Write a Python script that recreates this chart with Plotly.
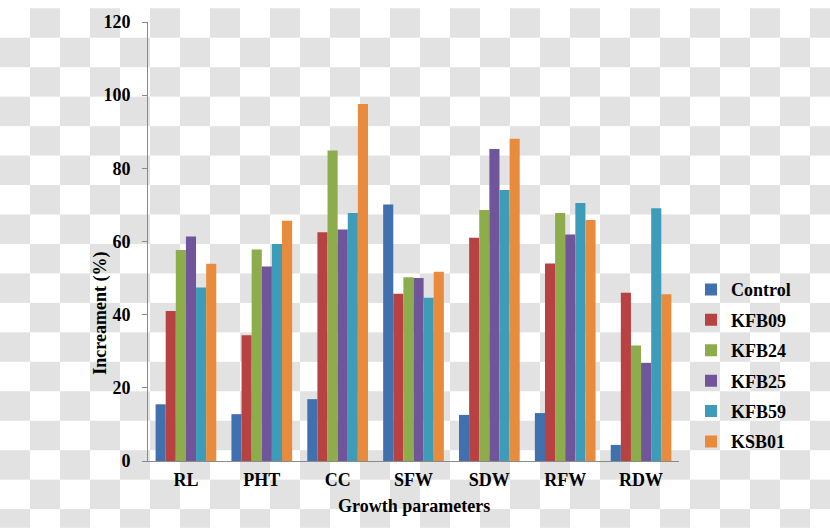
import plotly.graph_objects as go

categories = ["RL", "PHT", "CC", "SFW", "SDW", "RFW", "RDW"]
series_names = ["Control", "KFB09", "KFB24", "KFB25", "KFB59", "KSB01"]
control = [15.5, 12.8, 16.9, 70.1, 12.6, 13.1, 4.4]
kfb09 = [41.0, 34.4, 62.5, 45.7, 61.0, 54.0, 46.0]
kfb24 = [57.7, 57.8, 84.9, 50.2, 68.6, 67.8, 31.6]
kfb25 = [61.4, 53.2, 63.3, 50.0, 85.3, 61.9, 26.8]
kfb59 = [47.4, 59.3, 67.8, 44.6, 74.1, 70.5, 69.1]
ksb01 = [53.9, 65.7, 97.6, 51.7, 88.1, 65.9, 45.6]
series_values = [control, kfb09, kfb24, kfb25, kfb59, ksb01]
colors = ["#4170AE", "#B84242", "#8DAC4C", "#70559A", "#3D9DB8", "#E98B3C"]
y_ticks = [0, 20, 40, 60, 80, 100, 120]

W, H = 830, 529
ML, MR, MT, MB = 148, 151, 14, 68
PW, PH = W - ML - MR, H - MT - MB

FONT = "Liberation Serif"
FS = 18

fig = go.Figure()
for name, vals, col in zip(series_names, series_values, colors):
    fig.add_trace(go.Bar(x=categories, y=vals, name=name, marker_color=col,
                         marker_line_width=0, legendgroup=name))

# checkerboard background (transparent-image pattern)
shapes = []
cell = 30
for c in range(W // cell + 1):
    for r in range(H // cell + 1):
        if (c + r) % 2 == 1:
            x0, x1 = c * cell, min((c + 1) * cell, W)
            y0, y1 = r * cell, min((r + 1) * cell, H)
            shapes.append(dict(type="rect", xref="paper", yref="paper",
                               x0=(x0 - ML) / PW, x1=(x1 - ML) / PW,
                               y0=(H - MB - y0) / PH, y1=(H - MB - y1) / PH,
                               fillcolor="#e2e2e2", line_width=0, layer="below"))

fig.update_layout(
    width=W, height=H,
    margin=dict(l=ML, r=MR, t=MT, b=MB, pad=0),
    paper_bgcolor="white", plot_bgcolor="rgba(0,0,0,0)",
    barmode="group", bargap=0.2, bargroupgap=0,
    font=dict(family=FONT, size=FS, color="black"),
    shapes=shapes,
    showlegend=True,
    legend=dict(x=(691 - ML) / PW, xanchor="left", y=(H - MB - 364) / PH, yanchor="middle",
                font=dict(family=FONT, size=FS, color="black", weight="bold"),
                bgcolor="rgba(0,0,0,0)", tracegroupgap=4, itemwidth=30),
    xaxis=dict(showline=True, linecolor="#8a8a8a", linewidth=1, ticks="",
               tickfont=dict(family=FONT, size=FS, weight="bold"),
               ticklabelstandoff=2, showgrid=False, zeroline=False),
    yaxis=dict(range=[0, 120], tickvals=y_ticks, showline=True, linecolor="#8a8a8a",
               linewidth=1, ticks="outside", ticklen=5, tickcolor="#8a8a8a",
               tickfont=dict(family=FONT, size=FS, weight="bold"),
               ticklabelstandoff=8, showgrid=False, zeroline=False),
    annotations=[
        dict(text="<b>Increament (%)</b>", xref="paper", yref="paper",
             x=(101 - ML) / PW, y=(H - MB - 311) / PH, textangle=-90,
             xanchor="center", yanchor="middle",
             showarrow=False, font=dict(family=FONT, size=FS)),
        dict(text="<b>Growth parameters</b>", xref="paper", yref="paper",
             x=0.5, y=(H - MB - 507) / PH, xanchor="center", yanchor="middle",
             showarrow=False, font=dict(family=FONT, size=FS)),
    ],
)

fig.write_html("out.html", config={"displayModeBar": False},
               post_script="document.body.style.margin='0';document.body.style.padding='0';"
                           "document.body.style.overflow='hidden';")
